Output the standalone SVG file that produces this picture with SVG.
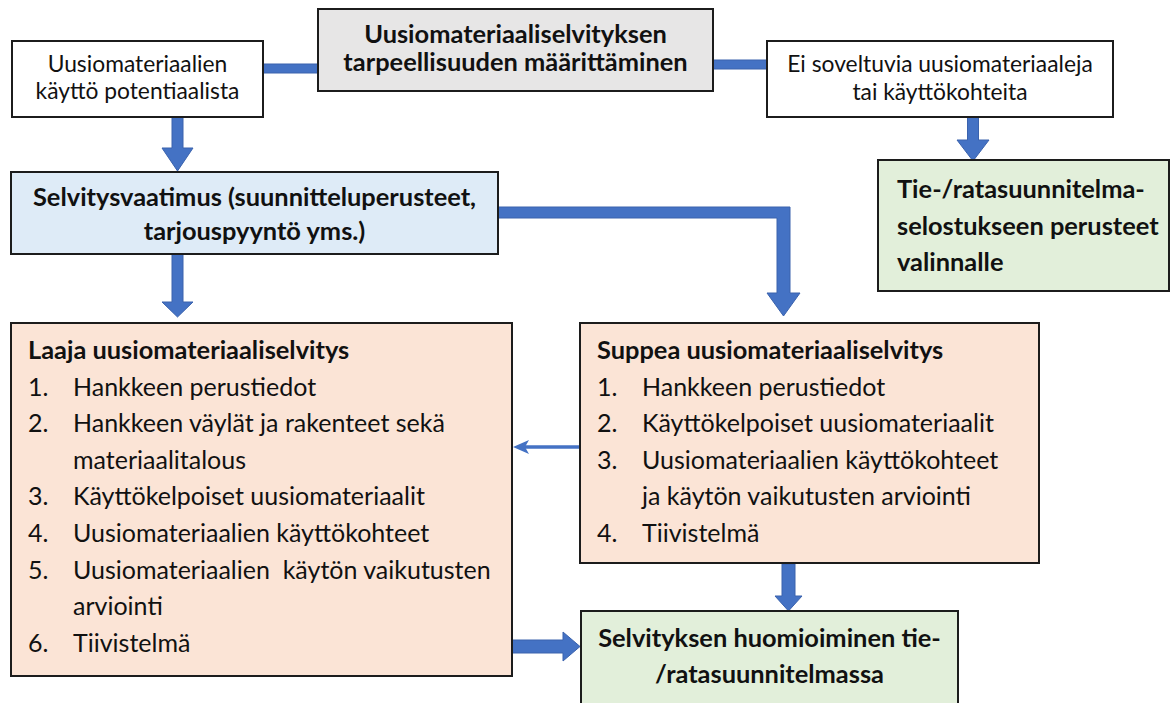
<svg xmlns="http://www.w3.org/2000/svg" width="1171" height="703" viewBox="0 0 1171 703">
<style>
.box{stroke:#1c1c1c;stroke-width:2}
.w{fill:#ffffff}
.g{fill:#e7e6e6}
.b{fill:#deebf7}
.p{fill:#fbe4d6}
.gr{fill:#e2efda}
text{font-family:Lato,"Liberation Sans",sans-serif;fill:#111111}
.r{font-size:22.8px}
.t{font-size:25px}
.bd{font-weight:bold;font-size:25.4px}
.c{text-anchor:middle}
.arr{fill:#4472c4;stroke:#3a62ad;stroke-width:1}
</style>
<g id="connectors">
<rect class="arr" x="263" y="64" width="55" height="9"/>
<rect class="arr" x="713" y="60" width="54" height="9"/>
<path class="arr" d="M172,117 H183 V148 H193 L177.5,171 L162,148 H172 Z"/>
<path class="arr" d="M172,254 H183 V302 H193 L177.5,317 L162,302 H172 Z"/>
<path class="arr" d="M498,207 H790 V293 H800 L783.5,316 L767,293 H777 V218 H498 Z"/>
<path class="arr" d="M967.5,117 H978.5 V140 H989 L973,161 L957,140 H967.5 Z"/>
<line x1="580" y1="447" x2="522" y2="447" stroke="#4472c4" stroke-width="3.5"/>
<polygon points="513,447 529,440 525,447 529,454" fill="#4472c4"/>
<path class="arr" d="M512,640 H563 V632 L580,646.5 L563,661 V653 H512 Z"/>
<path class="arr" d="M782,564 H795 V596 H802 L788.5,611 L775,596 H782 Z"/>
</g>
<g id="n-top">
<rect class="box g" x="318" y="9" width="395" height="82"/>
<text class="bd c" x="515.5" y="43">Uusiomateriaaliselvityksen</text>
<text class="bd c" x="515.5" y="71">tarpeellisuuden määrittäminen</text>
</g>
<g id="n-potential">
<rect class="box w" x="12" y="41" width="251" height="76"/>
<text class="r c" x="137.5" y="72">Uusiomateriaalien</text>
<text class="r c" x="137.5" y="99">käyttö potentiaalista</text>
</g>
<g id="n-none">
<rect class="box w" x="767" y="41" width="346" height="76"/>
<text class="r c" x="940" y="72">Ei soveltuvia uusiomateriaaleja</text>
<text class="r c" x="940" y="100">tai käyttökohteita</text>
</g>
<g id="n-basis">
<rect class="box gr" x="878" y="160" width="291" height="131"/>
<text class="bd" x="897" y="198">Tie-/ratasuunnitelma-</text>
<text class="bd" x="897" y="235">selostukseen perusteet</text>
<text class="bd" x="897" y="271">valinnalle</text>
</g>
<g id="n-requirement">
<rect class="box b" x="11" y="172" width="487" height="82"/>
<text class="bd c" x="254.5" y="206">Selvitysvaatimus (suunnitteluperusteet,</text>
<text class="bd c" x="254.5" y="240">tarjouspyyntö yms.)</text>
</g>
<g id="n-laaja">
<rect class="box p" x="11" y="323" width="501" height="353"/>
<text class="bd" x="28" y="359">Laaja uusiomateriaaliselvitys</text>
<text class="t" x="28" y="395.6">1.</text><text class="t" x="73" y="395.6">Hankkeen perustiedot</text>
<text class="t" x="28" y="432.2">2.</text><text class="t" x="73" y="432.2">Hankkeen väylät ja rakenteet sekä</text>
<text class="t" x="73" y="468.8">materiaalitalous</text>
<text class="t" x="28" y="505.4">3.</text><text class="t" x="73" y="505.4">Käyttökelpoiset uusiomateriaalit</text>
<text class="t" x="28" y="542">4.</text><text class="t" x="73" y="542">Uusiomateriaalien käyttökohteet</text>
<text class="t" x="28" y="578.6">5.</text><text class="t" x="73" y="578.6" xml:space="preserve">Uusiomateriaalien  käytön vaikutusten</text>
<text class="t" x="73" y="615.2">arviointi</text>
<text class="t" x="28" y="651.8">6.</text><text class="t" x="73" y="651.8">Tiivistelmä</text>
</g>
<g id="n-suppea">
<rect class="box p" x="580" y="323" width="459" height="240"/>
<text class="bd" x="597" y="359">Suppea uusiomateriaaliselvitys</text>
<text class="t" x="597" y="395.6">1.</text><text class="t" x="642" y="395.6">Hankkeen perustiedot</text>
<text class="t" x="597" y="432.2">2.</text><text class="t" x="642" y="432.2">Käyttökelpoiset uusiomateriaalit</text>
<text class="t" x="597" y="468.8">3.</text><text class="t" x="642" y="468.8">Uusiomateriaalien käyttökohteet</text>
<text class="t" x="642" y="505.4">ja käytön vaikutusten arviointi</text>
<text class="t" x="597" y="542">4.</text><text class="t" x="642" y="542">Tiivistelmä</text>
</g>
<g id="n-result">
<rect class="box gr" x="581" y="611" width="377" height="96"/>
<text class="bd c" x="769.5" y="647">Selvityksen huomioiminen tie-</text>
<text class="bd c" x="769.5" y="683">/ratasuunnitelmassa</text>
</g>
</svg>
